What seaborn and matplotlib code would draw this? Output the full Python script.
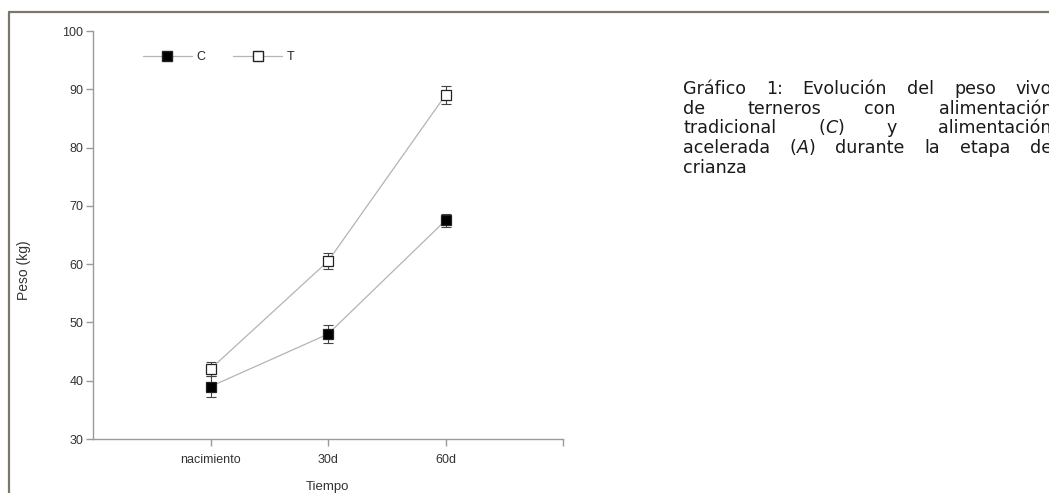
import matplotlib
matplotlib.use("Agg")
import matplotlib.pyplot as plt
import seaborn as sns
import pandas as pd
from matplotlib.lines import Line2D

# ---- data ----
categorias = ["nacimiento", "30d", "60d"]
peso_C = [39.0, 48.0, 67.5]
err_C = [1.8, 1.5, 1.1]
peso_T = [42.0, 60.5, 89.0]
err_T = [1.2, 1.4, 1.6]
y_ticks = [30, 40, 50, 60, 70, 80, 90, 100]

caption_runs = [
    [[("Gráfico", "n")], [("1:", "n")], [("Evolución", "n")], [("del", "n")], [("peso", "n")], [("vivo", "n")]],
    [[("de", "n")], [("terneros", "n")], [("con", "n")], [("alimentación", "n")]],
    [[("tradicional", "n")], [("(", "n"), ("C", "i"), (")", "n")], [("y", "n")], [("alimentación", "n")]],
    [[("acelerada", "n")], [("(", "n"), ("A", "i"), (")", "n")], [("durante", "n")], [("la", "n")], [("etapa", "n")], [("de", "n")]],
    [[("crianza", "n")]],
]

W, H = 1049, 493
sns.set_theme(style="white")
plt.rcParams['font.family'] = ['Liberation Sans', 'DejaVu Sans']

fig = plt.figure(figsize=(W / 100, H / 100), dpi=100)
fig.patch.set_facecolor("white")

ax_l, ax_r, ax_t, ax_b = 93, 563, 31, 439
ax = fig.add_axes([ax_l / W, 1 - ax_b / H, (ax_r - ax_l) / W, (ax_b - ax_t) / H])
ax.set_facecolor("white")

df = pd.DataFrame({
    "Tiempo": categorias * 2,
    "Peso": peso_C + peso_T,
    "grupo": ["C"] * 3 + ["T"] * 3,
})

line_col = "#b4b4b4"
for g, fc in [("C", "black"), ("T", "white")]:
    sub = df[df["grupo"] == g]
    sns.lineplot(data=sub, x="Tiempo", y="Peso", sort=False, ax=ax, color=line_col,
                 linewidth=0.9, marker="s", markersize=7, markerfacecolor=fc,
                 markeredgecolor="#222222", markeredgewidth=0.9, zorder=3,
                 legend=False)

xs = list(range(len(categorias)))
ax.errorbar(xs, peso_C, yerr=err_C, fmt="none", ecolor="#444444", elinewidth=0.8,
            capsize=3.5, capthick=0.8, zorder=2)
ax.errorbar(xs, peso_T, yerr=err_T, fmt="none", ecolor="#444444", elinewidth=0.8,
            capsize=3.5, capthick=0.8, zorder=2)

ax.set_xlim(-1, 3)
ax.set_ylim(30, 100)
ax.set_xticks(xs + [3])
ax.set_xticklabels(categorias + [""])
ax.set_yticks(y_ticks)
ax.set_yticklabels([str(v) for v in y_ticks])
ax.set_xlabel("")
ax.set_ylabel("")
for s in ["top", "right"]:
    ax.spines[s].set_visible(False)
for s in ["left", "bottom"]:
    ax.spines[s].set_color("#9a9a9a")
    ax.spines[s].set_linewidth(1.0)
ax.tick_params(axis="both", direction="out", length=5, width=1.0, color="#9a9a9a",
               labelsize=9, labelcolor="#333333", left=True, bottom=True, pad=2)
ax.tick_params(axis="x", pad=6)

# legend
hC = Line2D([], [], color=line_col, lw=0.9, marker="s", markersize=7,
            markerfacecolor="black", markeredgecolor="#222222")
hT = Line2D([], [], color=line_col, lw=0.9, marker="s", markersize=7,
            markerfacecolor="white", markeredgecolor="#222222")
ax.legend([hC, hT], ["C", "T"], ncol=2, frameon=False, loc="upper left",
          bbox_to_anchor=((143 - ax_l) / (ax_r - ax_l), 1 - (51 - ax_t) / (ax_b - ax_t)),
          handlelength=3.9, handletextpad=0.4, columnspacing=2.2, fontsize=9,
          borderaxespad=0, borderpad=0)

fig.text(24 / W, 1 - 270 / H, "Peso (kg)", rotation=90, ha="center", va="center",
         fontsize=10, color="#333333")
fig.text(327 / W, 1 - 487 / H, "Tiempo", ha="center", va="center",
         fontsize=9.5, color="#333333")

# frame
fig.add_artist(Line2D([8.5 / W, 1.0], [1 - 11.5 / H, 1 - 11.5 / H], transform=fig.transFigure,
                      color="#7d776b", lw=1.6))
fig.add_artist(Line2D([8.5 / W, 8.5 / W], [1 - 11.5 / H, 0], transform=fig.transFigure,
                      color="#7d776b", lw=1.6))

# justified caption
cap_font = ["DejaVu Sans"]
cap_col = "#1a1a1a"
x0, x1 = 683, 1052
y_base = [94, 113.7, 133.4, 153, 172.8]
renderer = fig.canvas.get_renderer()

def run_width(txt, style, fs):
    t = fig.text(0, 0, txt, fontsize=fs, family=cap_font,
                 style="italic" if style == "i" else "normal")
    w = t.get_window_extent(renderer).width
    t.remove()
    return w

def word_width(word, fs):
    return sum(run_width(t, s, fs) for t, s in word)

def space_w(fs):
    return run_width("a a", "n", fs) - run_width("aa", "n", fs)

fs = 11
nat = max(sum(word_width(w, fs) for w in line) + space_w(fs) * (len(line) - 1)
          for line in caption_runs)
fs = min(fs * (x1 - x0) / nat * 0.995, 12.6)

for li, line in enumerate(caption_runs):
    widths = [word_width(w, fs) for w in line]
    if li < len(caption_runs) - 1 and len(line) > 1:
        gap = (x1 - x0 - sum(widths)) / (len(line) - 1)
    else:
        gap = space_w(fs)
    x = x0
    for w, ww in zip(line, widths):
        xx = x
        for t, s in w:
            fig.text(xx / W, 1 - y_base[li] / H, t, fontsize=fs, family=cap_font,
                     style="italic" if s == "i" else "normal", color=cap_col,
                     ha="left", va="baseline")
            xx += run_width(t, s, fs)
        x += ww + gap

fig.savefig("out.png", dpi=100, facecolor="white")
